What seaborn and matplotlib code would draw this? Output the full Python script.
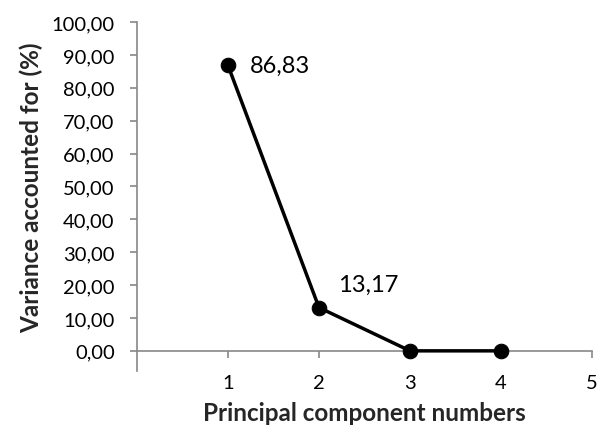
import matplotlib
matplotlib.use("Agg")
import matplotlib.pyplot as plt
import seaborn as sns
import pandas as pd

components = [1, 2, 3, 4]
variance = [86.83, 13.17, 0.0, 0.0]
point_labels = ["86,83", "13,17", "", ""]
yticks = [0, 10, 20, 30, 40, 50, 60, 70, 80, 90, 100]
xticks = [1, 2, 3, 4, 5]

sns.set_theme(style="white")
plt.rcParams['font.family'] = ['Lato', 'DejaVu Sans']

df = pd.DataFrame({"pc": components, "var": variance})

fig = plt.figure(figsize=(5.98, 4.27), dpi=100)
ax = fig.add_axes([0.229, 0.176, 0.761, 0.770])
sns.lineplot(data=df, x="pc", y="var", ax=ax, color="black", linewidth=2.5,
             marker="o", markersize=10.5, markeredgecolor="black",
             markerfacecolor="black", clip_on=False, zorder=5)

for x, y, lab in zip(components, variance, point_labels):
    if lab:
        if x == 1:
            ax.annotate(lab, (x, y), xytext=(16, 0), textcoords="offset points",
                        ha="left", va="center", fontsize=17, color="black")
        else:
            ax.annotate(lab, (x, y), xytext=(14, 17), textcoords="offset points",
                        ha="left", va="center", fontsize=17, color="black")

ax.set_xlim(0, 5)
ax.set_ylim(0, 100)
ax.set_xticks(xticks)
ax.set_yticks(yticks)
ax.set_yticklabels([f"{v:.2f}".replace(".", ",") for v in yticks])
ax.set_xticklabels([str(v) for v in xticks])
ax.tick_params(axis="both", labelsize=14.5, colors="#888888", labelcolor="black",
               length=5, width=1.2, direction="out", bottom=True, left=True)
ax.tick_params(axis="y", pad=11)
ax.tick_params(axis="x", pad=12)
ax.set_xlabel("Principal component numbers", fontsize=17.5, fontweight="bold", labelpad=7)
ax.set_ylabel("Variance accounted for (%)", fontsize=17.5, fontweight="bold", labelpad=6)

for side in ["top", "right"]:
    ax.spines[side].set_visible(False)
for side in ["left", "bottom"]:
    ax.spines[side].set_color("#888888")
    ax.spines[side].set_linewidth(1.2)
ax.spines["left"].set_bounds(-6.1, 100)
ax.spines["bottom"].set_bounds(0, 5)

fig.savefig("out.png", dpi=100, facecolor="white")
